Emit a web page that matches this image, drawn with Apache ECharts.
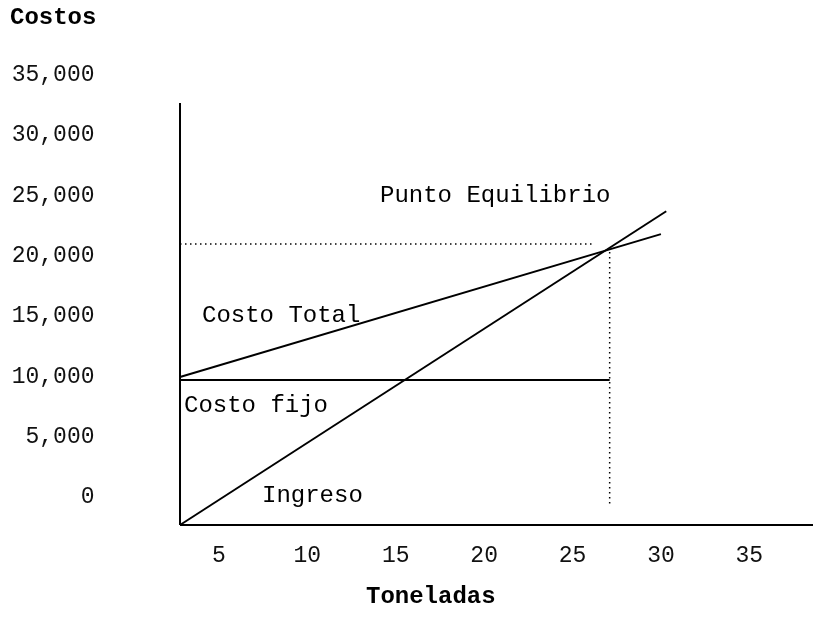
<!DOCTYPE html>
<html>
<head>
<meta charset="utf-8">
<script src="https://cdn.jsdelivr.net/npm/echarts@6/dist/echarts.min.js"></script>
<style>
html,body{margin:0;padding:0;background:#fff;}
#c{width:818px;height:627px;}
</style>
</head>
<body>
<div id="c"></div>
<script>
// ---- data (in axis units) ----
const xTickLabels = [5, 10, 15, 20, 25, 30, 35];
const yTickLabels = [0, 5000, 10000, 15000, 20000, 25000, 30000, 35000];
const originX = 2.8, originY = -2320;          // where the drawn axes meet
const xAxisEnd = 38.6, yAxisTop = 32670;
const ingresoX = [2.8, 30.3];   const ingresoY = [-2320, 23700];
const costoTotalX = [2.8, 30.0]; const costoTotalY = [9950, 21800];
const costoFijoX = [2.8, 27.1];  const costoFijoY = [9700, 9700];
const equilibrioHX = [2.8, 26.1]; const equilibrioHY = [20980, 20980];
const equilibrioVX = [27.1, 27.1]; const equilibrioVY = [20320, -830];
const annotations = ["Punto Equilibrio", "Costo Total", "Costo fijo", "Ingreso"];

const pairs = (xs, ys) => xs.map((x, i) => [x, ys[i]]);
const FONT = '"Liberation Mono", "Courier New", monospace';

function line(name, data, type, width) {
  return {
    name, type: 'line', data, symbol: 'none', silent: true, animation: false,
    lineStyle: { color: '#000', width: width || 2, type: type || 'solid' }
  };
}

const chart = echarts.init(document.getElementById('c'), null, { renderer: 'canvas' });
chart.setOption({
  backgroundColor: '#fff',
  animation: false,
  grid: { left: 130.5, right: 5, top: 75, bottom: 69.7, containLabel: false },
  xAxis: {
    type: 'value', min: 0, max: xAxisEnd, interval: 5,
    axisLine: { show: false }, axisTick: { show: false }, splitLine: { show: false },
    axisLabel: {
      margin: -1.5, verticalAlign: 'middle', color: '#111',
      fontFamily: FONT, fontSize: 23,
      formatter: v => (xTickLabels.indexOf(v) >= 0 ? String(v) : '')
    }
  },
  yAxis: {
    type: 'value', min: -5000, max: 35000, interval: 5000,
    axisLine: { show: false }, axisTick: { show: false }, splitLine: { show: false },
    axisLabel: {
      margin: 36, color: '#111', fontFamily: FONT, fontSize: 23,
      formatter: v => (yTickLabels.indexOf(v) >= 0 ? v.toLocaleString('en-US') : '')
    }
  },
  series: [
    line('ejeX', [[originX, originY], [xAxisEnd, originY]], 'solid', 2),
    line('ejeY', [[originX, originY], [originX, yAxisTop]], 'solid', 2),
    line('Ingreso', pairs(ingresoX, ingresoY), 'solid', 2),
    line('Costo Total', pairs(costoTotalX, costoTotalY), 'solid', 2),
    line('Costo fijo', pairs(costoFijoX, costoFijoY), 'solid', 2),
    line('eqH', pairs(equilibrioHX, equilibrioHY), [1.5, 3.5], 1.5),
    line('eqV', pairs(equilibrioVX, equilibrioVY), [1.5, 3.5], 1.5)
  ],
  graphic: [
    { type: 'text', left: 10, top: 6, style: { text: 'Costos', font: 'bold 24px ' + FONT, fill: '#000' } },
    { type: 'text', left: 366, top: 585, style: { text: 'Toneladas', font: 'bold 24px ' + FONT, fill: '#000' } },
    { type: 'text', left: 380, top: 184, style: { text: annotations[0], font: '24px ' + FONT, fill: '#000' } },
    { type: 'text', left: 202, top: 304, style: { text: annotations[1], font: '24px ' + FONT, fill: '#000' } },
    { type: 'text', left: 184, top: 394, style: { text: annotations[2], font: '24px ' + FONT, fill: '#000' } },
    { type: 'text', left: 262, top: 484, style: { text: annotations[3], font: '24px ' + FONT, fill: '#000' } }
  ]
});
</script>
</body>
</html>
